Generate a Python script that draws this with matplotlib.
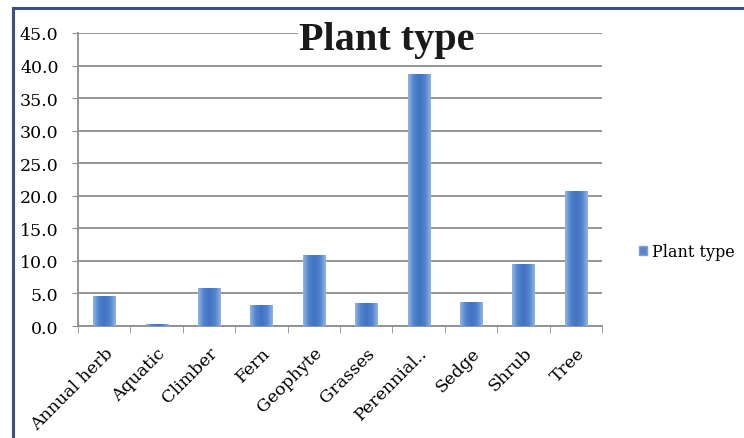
import numpy as np
import matplotlib
matplotlib.use("Agg")
import matplotlib.pyplot as plt
from matplotlib.colors import LinearSegmentedColormap
from matplotlib.lines import Line2D
from matplotlib.patches import Patch

# ---------------------------
# Data
# ---------------------------
categories = ["Annual herb", "Aquatic", "Climber", "Fern", "Geophyte",
              "Grasses", "Perennial..", "Sedge", "Shrub", "Tree"]
values = [4.5, 0.3, 5.7, 3.1, 10.9, 3.4, 38.6, 3.6, 9.5, 20.6]
y_ticks = [0, 5, 10, 15, 20, 25, 30, 35, 40, 45]
series_name = "Plant type"

# ---------------------------
# Figure
# ---------------------------
W, H = 744, 439
fig = plt.figure(figsize=(W / 100, H / 100), dpi=100)
fig.patch.set_facecolor("white")

ax = fig.add_axes([78 / W, 1 - 327 / H, (602 - 78) / W, (327 - 34) / H])
ax.set_facecolor("white")

serif = "DejaVu Serif"
grid_col = "#8e8e8e"

# bars with a soft horizontal gradient (light edges, darker middle)
bar_cmap = LinearSegmentedColormap.from_list(
    "barfill", ["#93b4e4", "#5083cc", "#4272c0", "#5083cc", "#93b4e4"])
grad = np.linspace(0, 1, 64).reshape(1, -1)
bar_w = 0.42
x = np.arange(len(categories))
for xi, v in zip(x, values):
    ax.imshow(grad, cmap=bar_cmap, aspect="auto", interpolation="bilinear",
              extent=(xi - bar_w / 2, xi + bar_w / 2, 0, v), zorder=3)

ax.set_xlim(-0.5, len(categories) - 0.5)
ax.set_ylim(0, 45)

# y axis
ax.set_yticks(y_ticks)
ax.set_yticklabels([f"{t:.1f}" for t in y_ticks], fontsize=12.5, family=serif)
ax.yaxis.grid(True, color=grid_col, linewidth=1.3, zorder=1)
ax.set_axisbelow(True)
ax.tick_params(axis="y", length=4, color=grid_col, pad=10)

# x axis: labels at centres, tick marks between categories
ax.set_xticks(x)
ax.set_xticklabels(categories, rotation=45, ha="right", rotation_mode="anchor",
                   fontsize=12.5, family=serif)
ax.tick_params(axis="x", which="major", length=0, pad=13)
ax.set_xticks(np.arange(-0.5, len(categories), 1.0), minor=True)
ax.tick_params(axis="x", which="minor", length=5, color=grid_col)

for side in ["top", "right"]:
    ax.spines[side].set_visible(False)
for side in ["left", "bottom"]:
    ax.spines[side].set_color(grid_col)
    ax.spines[side].set_linewidth(1.3)

# title sits on a white box over the top gridline
fig.text(387 / W, 1 - 50 / H, series_name, ha="center", va="baseline",
         fontsize=29, fontweight="bold", family="Liberation Serif",
         color="#1a1a1a",
         bbox=dict(facecolor="white", edgecolor="none", pad=1))

# legend
handle = Patch(facecolor="#5a86cc", edgecolor="#7f9fd8", label=series_name)
fig.legend(handles=[handle], loc="center left",
           bbox_to_anchor=(628 / W, 1 - 253 / H), frameon=False,
           handlelength=0.5, handleheight=0.5, handletextpad=0.3,
           borderpad=0.2, prop={"family": serif, "size": 11.5})

# chart frame (left and top edges)
frame_col = "#3b4f8f"
fig.add_artist(Line2D([13 / W, 13 / W], [0, 1 - 9 / H], color=frame_col,
                      linewidth=2.2, transform=fig.transFigure))
fig.add_artist(Line2D([13 / W, 1], [1 - 9 / H, 1 - 9 / H], color=frame_col,
                      linewidth=2.2, transform=fig.transFigure))

fig.savefig("out.png", dpi=100)
